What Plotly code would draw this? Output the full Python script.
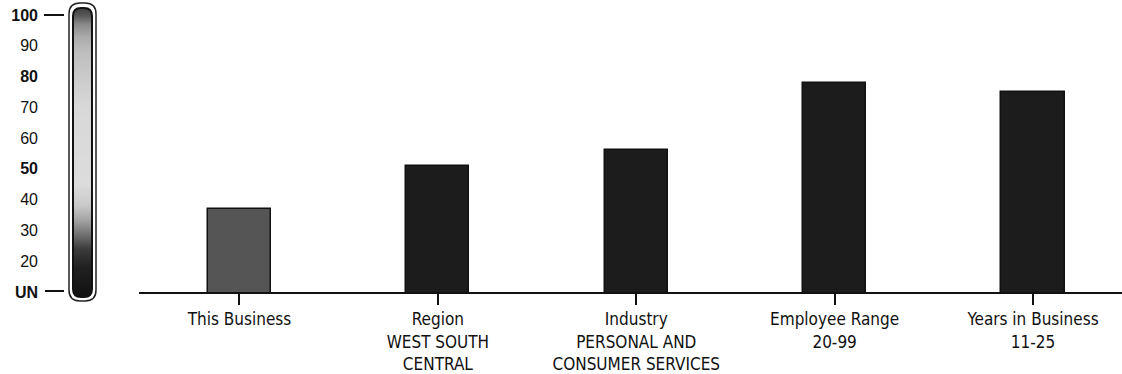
import numpy as np
import plotly.graph_objects as go

# ---- data -------------------------------------------------------------
categories = ["This Business", "Region", "Industry", "Employee Range", "Years in Business"]
sublabels = ["", "WEST SOUTH<br>CENTRAL", "PERSONAL AND<br>CONSUMER SERVICES", "20-99", "11-25"]
scores = [37, 51, 56, 78, 75]
bar_colors = ["#555555", "#1c1c1c", "#1c1c1c", "#1c1c1c", "#1c1c1c"]

# score scale shown on the gauge at the left
scale_vals = [10, 20, 30, 40, 50, 60, 70, 80, 90, 100]
scale_text = ["<b>UN</b>", "20", "30", "40", "<b>50</b>", "60", "70", "<b>80</b>", "90", "<b>100</b>"]

# gauge shading stops: (score, grey level)
shade_scores = [8, 18, 24, 28, 33, 38, 45, 70, 80, 88, 93, 97, 100, 103]
shade_greys = ["#111111", "#202020", "#3c3c3c", "#6a6a6a", "#a0a0a0", "#c8c8c8", "#dcdcdc",
               "#d8d8d8", "#cacaca", "#bdbdbd", "#aaaaaa", "#888888", "#555555", "#3a3a3a"]

# ---- geometry helpers (pixel -> paper) --------------------------------
W, H = 1122, 374
def px(x):
    return x / W
def py(y):
    return 1 - y / H

BASE_PX, TOP_PX = 292, 15           # pixel rows of score 10 and score 100
PX_PER_UNIT = (BASE_PX - TOP_PX) / 90.0
def score_at(p):
    return 10 + (BASE_PX - p) / PX_PER_UNIT

tick_labels = [c if not s else f"{c}<br>{s}" for c, s in zip(categories, sublabels)]

fig = go.Figure()

fig.add_trace(go.Bar(
    x=list(range(len(categories))), y=scores, width=0.318,
    marker=dict(color=bar_colors, line=dict(color="#111111", width=1.5)),
    xaxis="x", yaxis="y", hoverinfo="skip",
))

# ---- gauge shading (heatmap masked into a rounded capsule) ------------
g_x0, g_x1, g_y0, g_y1, g_r = 73, 92, 8, 297, 8
cols = np.arange(g_x1 - g_x0) + 0.5
rows = np.arange(g_y0, g_y1) + 0.5

def in_capsule(cx, cy):
    # nearest corner centre, only relevant inside the rounded end zones
    if g_y0 + g_r <= cy <= g_y1 - g_r:
        return True
    ccy = g_y0 + g_r if cy < g_y0 + g_r else g_y1 - g_r
    if g_x0 + g_r <= cx <= g_x1 - g_r:
        return True
    ccx = g_x0 + g_r if cx < g_x0 + g_r else g_x1 - g_r
    return (cx - ccx) ** 2 + (cy - ccy) ** 2 <= g_r ** 2

z = np.array([[score_at(p) if in_capsule(c + g_x0, p) else np.nan for c in cols] for p in rows])

smin, smax = shade_scores[0], shade_scores[-1]
colorscale = [[(s - smin) / (smax - smin), g] for s, g in zip(shade_scores, shade_greys)]

fig.add_trace(go.Heatmap(
    x=cols, y=[score_at(p) for p in rows], z=z,
    zmin=smin, zmax=smax, colorscale=colorscale, showscale=False,
    xaxis="x2", yaxis="y2", hoverinfo="skip",
))

# ---- gauge outlines ----------------------------------------------------
def capsule(x0, y0, x1, y1, r):
    pts = [
        f"M {px(x0 + r)},{py(y0)}",
        f"L {px(x1 - r)},{py(y0)}",
        f"Q {px(x1)},{py(y0)} {px(x1)},{py(y0 + r)}",
        f"L {px(x1)},{py(y1 - r)}",
        f"Q {px(x1)},{py(y1)} {px(x1 - r)},{py(y1)}",
        f"L {px(x0 + r)},{py(y1)}",
        f"Q {px(x0)},{py(y1)} {px(x0)},{py(y1 - r)}",
        f"L {px(x0)},{py(y0 + r)}",
        f"Q {px(x0)},{py(y0)} {px(x0 + r)},{py(y0)} Z",
    ]
    return " ".join(pts)

shapes = [
    dict(type="path", xref="paper", yref="paper", path=capsule(69, 3, 96, 301, 11),
         line=dict(color="#222222", width=1.5)),
    dict(type="path", xref="paper", yref="paper", path=capsule(g_x0, g_y0, g_x1, g_y1, g_r),
         line=dict(color="#111111", width=2)),
    dict(type="line", xref="paper", yref="paper", x0=px(44), x1=px(64), y0=py(15), y1=py(15),
         line=dict(color="#111111", width=2)),
    dict(type="line", xref="paper", yref="paper", x0=px(45), x1=px(64), y0=py(291), y1=py(291),
         line=dict(color="#111111", width=2)),
]

left_pad = (239.5 - 139) / 198.4
right_pad = (1122 - 1033) / 198.4

fig.update_layout(
    template="none",
    width=W, height=H,
    margin=dict(l=0, r=0, t=0, b=0, pad=0, autoexpand=False),
    paper_bgcolor="white", plot_bgcolor="rgba(0,0,0,0)",
    showlegend=False,
    bargap=0,
    shapes=shapes,
    xaxis=dict(
        domain=[px(139), 1.0], range=[-left_pad, 4 + right_pad],
        tickmode="array", tickvals=list(range(len(categories))), ticktext=tick_labels,
        showline=True, linecolor="#111111", linewidth=2,
        ticks="outside", ticklen=11, tickwidth=2, tickcolor="#111111",
        showgrid=False, zeroline=False, automargin=False,
        tickfont=dict(family="DejaVu Sans Condensed", size=17, color="#111111"),
        anchor="y", fixedrange=True,
    ),
    yaxis=dict(
        domain=[py(BASE_PX), py(TOP_PX)], range=[10, 100],
        visible=False, showgrid=False, zeroline=False, automargin=False, anchor="x",
    ),
    xaxis2=dict(
        domain=[px(g_x0), px(g_x1)], range=[0, g_x1 - g_x0],
        visible=False, showgrid=False, zeroline=False, automargin=False, anchor="y2",
    ),
    yaxis2=dict(
        domain=[py(g_y1), py(g_y0)], range=[score_at(g_y1), score_at(g_y0)],
        tickmode="array", tickvals=scale_vals, ticktext=scale_text,
        ticks="", showline=False, showgrid=False, zeroline=False, automargin=False,
        ticklabelstandoff=34,
        tickfont=dict(family="Liberation Sans", size=16, color="#111111"),
        anchor="x2", side="left",
    ),
)

fig.write_html("out.html")
